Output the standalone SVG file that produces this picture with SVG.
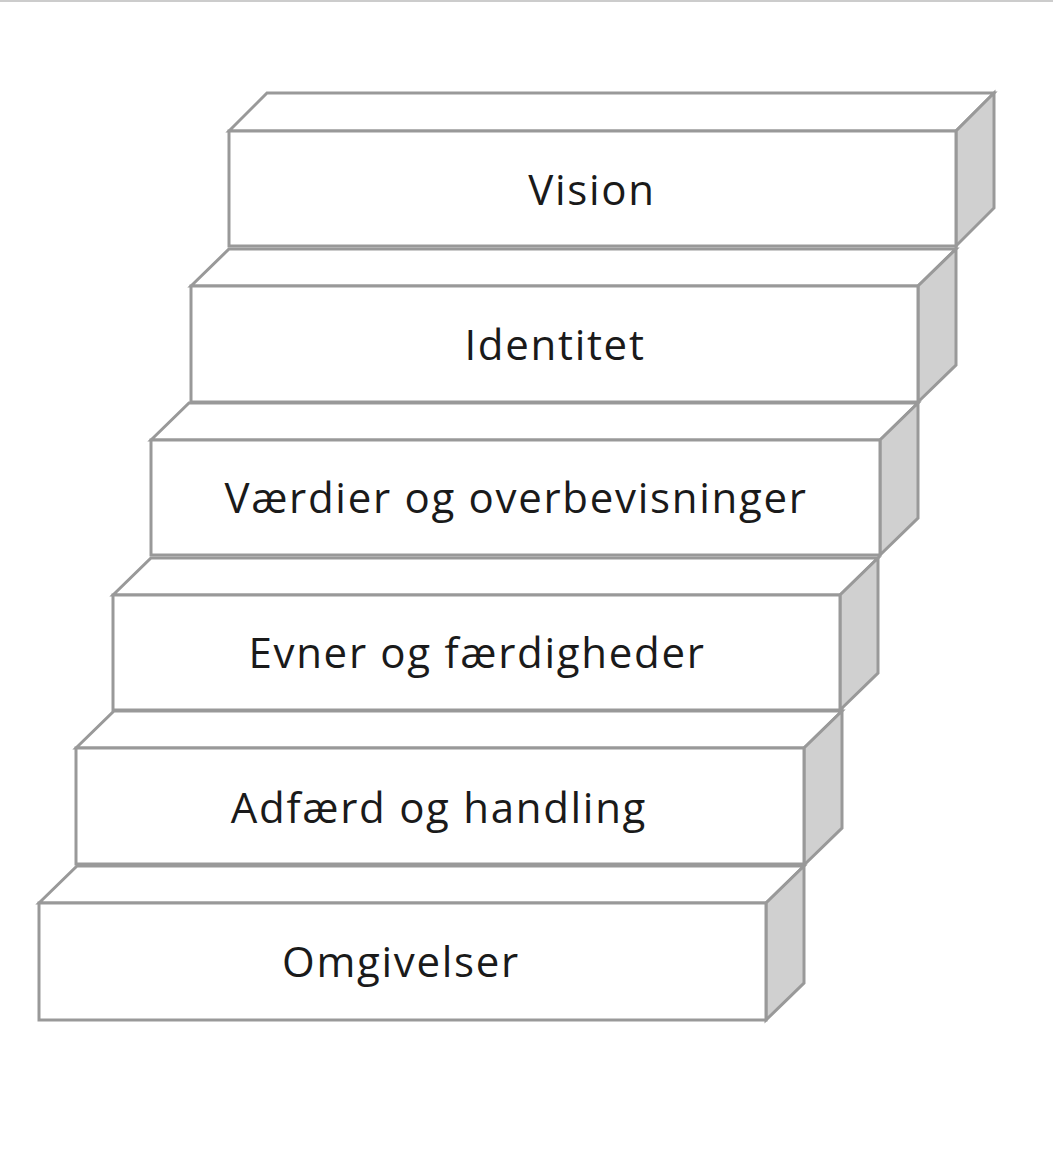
<svg xmlns="http://www.w3.org/2000/svg" width="1053" height="1152" viewBox="0 0 1053 1152">
<style>
.f{fill:#fff;stroke:#999;stroke-width:3;stroke-linejoin:miter}
.s{fill:#d0d0d0;stroke:#999;stroke-width:3}
text{font-family:"Open Sans","Liberation Sans",sans-serif;font-size:42px;letter-spacing:1.7px;fill:#1a1a1a;text-anchor:middle}
</style>
<rect width="1053" height="1152" fill="#fff"/>
<line x1="0" y1="1" x2="1053" y2="1" stroke="#ccc" stroke-width="2"/>
<g id="omgivelser" transform="translate(39,903)">
<polygon class="f" points="0,0 38,-37 765,-37 727,0"/>
<polygon class="s" points="727,0 765,-37 765,80 727,117"/>
<rect class="f" x="0" y="0" width="727" height="117"/>
<text x="362" y="74">Omgivelser</text>
</g>
<g id="adfaerd" transform="translate(76,748)">
<polygon class="f" points="0,0 38,-37 766,-37 728,0"/>
<polygon class="s" points="728,0 766,-37 766,80 728,117"/>
<rect class="f" x="0" y="0" width="728" height="116"/>
<text x="363" y="75">Adfærd og handling</text>
</g>
<g id="evner" transform="translate(113,595)">
<polygon class="f" points="0,0 38,-37 765,-37 727,0"/>
<polygon class="s" points="727,0 765,-37 765,78 727,115"/>
<rect class="f" x="0" y="0" width="727" height="115"/>
<text x="364" y="73">Evner og færdigheder</text>
</g>
<g id="vaerdier" transform="translate(151,440)">
<polygon class="f" points="0,0 38,-37 767,-37 729,0"/>
<polygon class="s" points="729,0 767,-37 767,78 729,115"/>
<rect class="f" x="0" y="0" width="729" height="115"/>
<text x="365" y="73">Værdier og overbevisninger</text>
</g>
<g id="identitet" transform="translate(191,286)">
<polygon class="f" points="0,0 38,-37 765,-37 727,0"/>
<polygon class="s" points="727,0 765,-37 765,79 727,116"/>
<rect class="f" x="0" y="0" width="727" height="116"/>
<text x="364" y="74">Identitet</text>
</g>
<g id="vision" transform="translate(229,131)">
<polygon class="f" points="0,0 38,-38 765,-38 727,0"/>
<polygon class="s" points="727,0 765,-38 765,77 727,115"/>
<rect class="f" x="0" y="0" width="727" height="115"/>
<text x="363" y="74">Vision</text>
</g>
</svg>
